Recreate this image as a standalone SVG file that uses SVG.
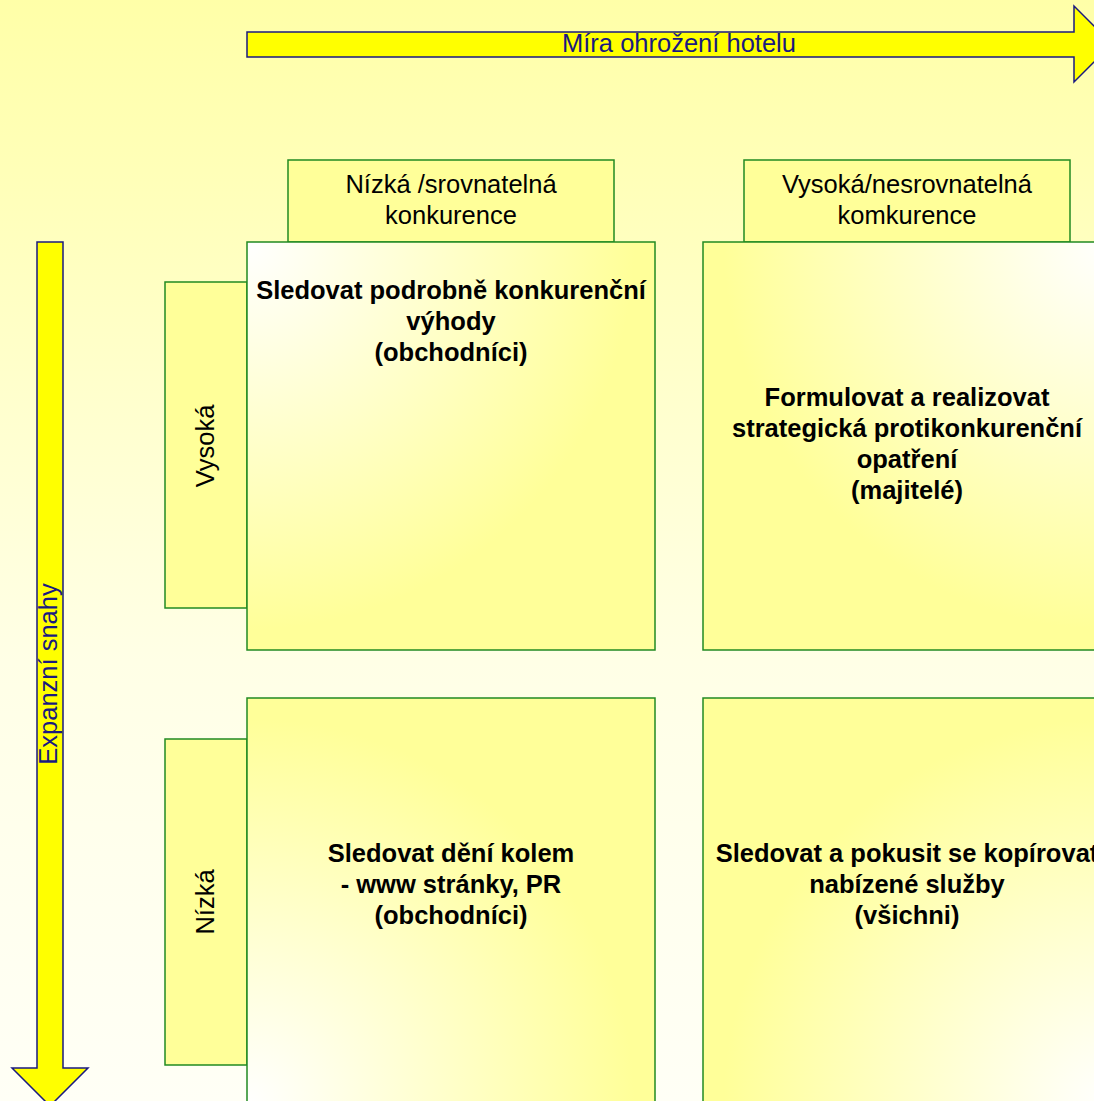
<svg xmlns="http://www.w3.org/2000/svg" width="1094" height="1101" viewBox="0 0 1094 1101">
  <defs>
    <linearGradient id="bg" x1="0" y1="0" x2="0" y2="1">
      <stop offset="0" stop-color="#FFFFA8"/>
      <stop offset="0.6" stop-color="#FFFFE6"/>
      <stop offset="1" stop-color="#FFFFF6"/>
    </linearGradient>
    <radialGradient id="gTL" cx="0" cy="0" r="1" fx="0" fy="0">
      <stop offset="0" stop-color="#FFFFFF"/>
      <stop offset="0.95" stop-color="#FFFF99"/>
    </radialGradient>
    <radialGradient id="gTR" cx="1" cy="0" r="1" fx="1" fy="0">
      <stop offset="0" stop-color="#FFFFFF"/>
      <stop offset="0.95" stop-color="#FFFF99"/>
    </radialGradient>
    <radialGradient id="gBL" cx="0" cy="1" r="1" fx="0" fy="1">
      <stop offset="0" stop-color="#FFFFFF"/>
      <stop offset="0.95" stop-color="#FFFF99"/>
    </radialGradient>
    <radialGradient id="gBR" cx="1" cy="1" r="1" fx="1" fy="1">
      <stop offset="0" stop-color="#FFFFFF"/>
      <stop offset="0.95" stop-color="#FFFF99"/>
    </radialGradient>
    <style>
      .arrow { fill: #FFFF00; stroke: #1A1A80; stroke-width: 1.5; }
      .atext { font-family: "Liberation Sans", Arial, sans-serif; font-size: 25.5px; fill: #1A1A80; text-anchor: middle; }
      .hdr { fill: #FFFF99; stroke: #228B22; stroke-width: 1.5; }
      .htext { font-family: "Liberation Sans", Arial, sans-serif; font-size: 25.5px; fill: #000; text-anchor: middle; }
      .box { stroke: #228B22; stroke-width: 1.5; }
      .btext { font-family: "Liberation Sans", Arial, sans-serif; font-size: 25.5px; font-weight: bold; fill: #000; text-anchor: middle; }
    </style>
  </defs>
  <rect x="0" y="0" width="1094" height="1101" fill="url(#bg)"/>

  <g id="arrow-horizontal">
    <path class="arrow" d="M247,32 H1074 V6 L1112,44 L1074,82 V57 H247 Z"/>
    <text class="atext" x="679" y="52">Míra ohrožení hotelu</text>
  </g>

  <g id="arrow-vertical">
    <path class="arrow" d="M37,242 H63 V1068 H88 L50,1106 L12,1068 H37 Z"/>
    <text class="atext" transform="translate(57,674) rotate(-90)">Expanzní snahy</text>
  </g>

  <g id="col-low">
    <rect class="hdr" x="288" y="160" width="326" height="82"/>
    <text class="htext" x="451" y="193">Nízká /srovnatelná</text>
    <text class="htext" x="451" y="224">konkurence</text>
  </g>
  <g id="col-high">
    <rect class="hdr" x="744" y="160" width="326" height="82"/>
    <text class="htext" x="907" y="193">Vysoká/nesrovnatelná</text>
    <text class="htext" x="907" y="224">komkurence</text>
  </g>

  <g id="row-high">
    <rect class="hdr" x="165" y="282" width="82" height="326"/>
    <text class="htext" transform="translate(214,446) rotate(-90)">Vysoká</text>
  </g>
  <g id="row-low">
    <rect class="hdr" x="165" y="739" width="82" height="326"/>
    <text class="htext" transform="translate(214,902) rotate(-90)">Nízká</text>
  </g>

  <g id="box-tl">
    <rect class="box" x="247" y="242" width="408" height="408" fill="url(#gTL)"/>
    <text class="btext" x="451" y="299">Sledovat podrobně konkurenční</text>
    <text class="btext" x="451" y="330">výhody</text>
    <text class="btext" x="451" y="361">(obchodníci)</text>
  </g>
  <g id="box-tr">
    <rect class="box" x="703" y="242" width="408" height="408" fill="url(#gTR)"/>
    <text class="btext" x="907" y="406">Formulovat a realizovat</text>
    <text class="btext" x="907" y="437">strategická protikonkurenční</text>
    <text class="btext" x="907" y="468">opatření</text>
    <text class="btext" x="907" y="499">(majitelé)</text>
  </g>
  <g id="box-bl">
    <rect class="box" x="247" y="698" width="408" height="408" fill="url(#gBL)"/>
    <text class="btext" x="451" y="862">Sledovat dění kolem</text>
    <text class="btext" x="451" y="893">- www stránky, PR</text>
    <text class="btext" x="451" y="924">(obchodníci)</text>
  </g>
  <g id="box-br">
    <rect class="box" x="703" y="698" width="408" height="408" fill="url(#gBR)"/>
    <text class="btext" x="907" y="862">Sledovat a pokusit se kopírovat</text>
    <text class="btext" x="907" y="893">nabízené služby</text>
    <text class="btext" x="907" y="924">(všichni)</text>
  </g>
</svg>
